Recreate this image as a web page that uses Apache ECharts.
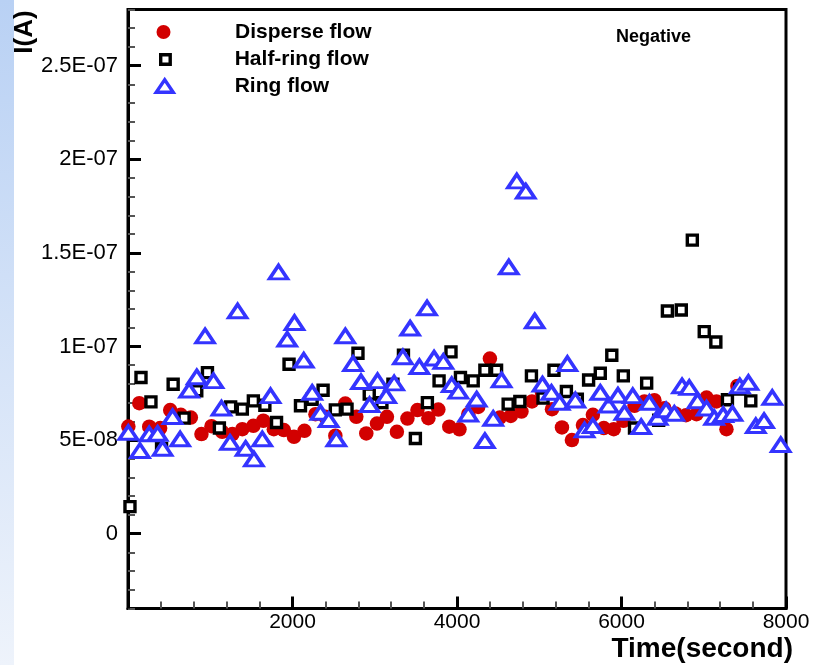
<!DOCTYPE html>
<html><head><meta charset="utf-8">
<script src="https://cdn.jsdelivr.net/npm/echarts@6/dist/echarts.min.js"></script>
<style>html,body{margin:0;padding:0;background:#fff}#c{width:815px;height:665px}</style>
</head><body><div id="c"></div>
<script>
const seriesNames = ['Disperse flow', 'Half-ring flow', 'Ring flow'];
const panelLabel = 'Negative';
const xAxisTitle = 'Time(second)';
const yAxisTitle = 'I(A)';

const disperseTime = [4,137,258,391,513,642,764,893,1015,1145,1269,1390,1524,1645,1773,1895,2018,2145,2279,2400,2521,2642,2776,2897,3027,3148,3269,3397,3519,3652,3773,3906,4030,4137,4258,4400,4521,4654,4784,4912,5033,5155,5276,5397,5531,5652,5785,5906,6024,6158,6279,6400,6521,6654,6784,6912,7034,7155,7276,7409];
const disperseCurrent = [5.72e-8,6.97e-8,5.71e-8,5.64e-8,6.60e-8,6.35e-8,6.20e-8,5.32e-8,5.74e-8,5.44e-8,5.32e-8,5.58e-8,5.76e-8,6.03e-8,5.58e-8,5.53e-8,5.17e-8,5.49e-8,6.38e-8,6.24e-8,5.23e-8,6.95e-8,6.24e-8,5.35e-8,5.88e-8,6.24e-8,5.44e-8,6.15e-8,6.60e-8,6.17e-8,6.63e-8,5.71e-8,5.57e-8,6.38e-8,6.77e-8,9.35e-8,6.20e-8,6.29e-8,6.52e-8,7.06e-8,7.54e-8,6.65e-8,5.67e-8,5.00e-8,5.80e-8,6.35e-8,5.64e-8,5.58e-8,6.03e-8,6.83e-8,7.06e-8,7.13e-8,6.70e-8,6.42e-8,6.33e-8,6.38e-8,7.27e-8,7.06e-8,5.58e-8,7.89e-8];

const halfRingTime = [24,158,279,408,549,682,836,966,1111,1248,1390,1524,1664,1806,1958,2097,2239,2372,2521,2663,2796,2933,3087,3221,3349,3494,3640,3782,3927,4042,4197,4339,4481,4622,4764,4905,5046,5179,5330,5463,5600,5742,5882,6022,6158,6306,6452,6558,6727,6861,7006,7147,7288,7438,7572];
const halfRingCurrent = [1.44e-8,8.34e-8,7.04e-8,4.55e-8,7.98e-8,6.17e-8,7.63e-8,8.60e-8,5.64e-8,6.77e-8,6.65e-8,7.09e-8,6.86e-8,5.94e-8,9.05e-8,6.83e-8,7.18e-8,7.66e-8,6.61e-8,6.65e-8,9.64e-8,7.45e-8,7.00e-8,7.98e-8,9.53e-8,5.08e-8,7.00e-8,8.16e-8,9.71e-8,8.34e-8,8.16e-8,8.73e-8,8.73e-8,6.92e-8,7.06e-8,8.43e-8,7.24e-8,8.73e-8,7.59e-8,7.18e-8,8.21e-8,8.57e-8,9.53e-8,8.43e-8,5.64e-8,8.04e-8,6.06e-8,11.89e-8,11.95e-8,15.68e-8,10.79e-8,10.24e-8,7.15e-8,7.72e-8,7.09e-8];

const ringTime = [4,145,258,360,421,542,634,743,836,937,1039,1136,1240,1333,1430,1531,1633,1733,1830,1936,2024,2137,2239,2339,2440,2533,2642,2736,2833,2937,3034,3139,3236,3342,3430,3543,3636,3721,3834,3936,4016,4137,4239,4339,4440,4542,4630,4727,4836,4945,5039,5148,5248,5342,5439,5551,5652,5742,5842,5957,6036,6137,6239,6339,6440,6542,6642,6736,6824,6924,7034,7127,7236,7349,7438,7543,7633,7733,7833,7936];
const ringCurrent = [5.40e-8,4.43e-8,5.32e-8,5.35e-8,4.55e-8,6.24e-8,5.05e-8,7.66e-8,8.37e-8,10.56e-8,8.16e-8,6.70e-8,4.87e-8,11.89e-8,4.55e-8,3.98e-8,5.05e-8,7.36e-8,13.97e-8,10.38e-8,11.27e-8,9.26e-8,7.54e-8,6.47e-8,6.08e-8,5.05e-8,10.56e-8,9.08e-8,8.11e-8,6.88e-8,8.16e-8,7.36e-8,8.04e-8,9.44e-8,10.97e-8,8.91e-8,12.05e-8,9.37e-8,9.19e-8,7.95e-8,7.60e-8,6.38e-8,7.18e-8,4.96e-8,6.15e-8,8.21e-8,14.24e-8,18.83e-8,18.29e-8,11.36e-8,7.98e-8,7.54e-8,7.00e-8,9.08e-8,7.13e-8,5.53e-8,5.76e-8,7.54e-8,6.86e-8,7.39e-8,6.47e-8,7.36e-8,5.71e-8,7.00e-8,6.20e-8,6.60e-8,6.42e-8,7.89e-8,7.80e-8,7.09e-8,6.70e-8,6.20e-8,6.35e-8,6.42e-8,7.89e-8,8.07e-8,5.76e-8,6.03e-8,7.27e-8,4.75e-8];

const xMin = 0, xMax = 8000, xMajor = 2000;
const yMin = -4e-8, yMax = 2.8e-7, yMinor = 1e-8, yMajor = 5e-8;

const FONT = '"Liberation Sans", Arial, Helvetica, sans-serif';

function sciLabel(v) {
  if (Math.abs(v) < 1e-20) return '0';
  const e = Math.floor(Math.log10(Math.abs(v)) + 1e-9);
  const m = Math.round(v / Math.pow(10, e) * 100) / 100;
  return m + 'E' + (e < 0 ? '-' : '+') + String(Math.abs(e)).padStart(2, '0');
}
function pairs(xs, ys) { return xs.map((x, i) => [x, ys[i]]); }

const chart = echarts.init(document.getElementById('c'), null, {renderer: 'canvas'});
const gridMain = {left: 128, right: 29, top: 9.5, bottom: 56.5};
const zeroBottom = 56.5 + 599 * (0 - yMin) / (yMax - yMin);

function legendFor(i, left, top, w, h, padLeft, extra) {
  return Object.assign({
    data: [seriesNames[i]], orient: 'vertical', left: left, top: top, padding: 0,
    itemWidth: w, itemHeight: h, selectedMode: false,
    textStyle: {fontFamily: FONT, fontSize: 21, fontWeight: 'bold', color: '#000', padding: [0, 0, 0, padLeft]}
  }, extra || {});
}

const option = {
  animation: false,
  backgroundColor: '#fff',
  textStyle: {fontFamily: FONT},
  graphic: [
    {type: 'rect', left: 0, top: 0, z: -10, silent: true, shape: {width: 14, height: 665},
     style: {fill: new echarts.graphic.LinearGradient(0, 0, 0, 1, [{offset: 0, color: '#b9d1f4'}, {offset: 1, color: '#eef3fb'}])}},
    {type: 'text', x: 25, y: 32, rotation: Math.PI / 2, silent: true,
     style: {text: yAxisTitle, font: 'bold 26px ' + FONT, fill: '#000', align: 'center', verticalAlign: 'middle'}}
  ],
  title: {text: panelLabel, left: 616, top: 28, padding: 0,
          textStyle: {fontFamily: FONT, fontSize: 18, fontWeight: 'bold', color: '#000'}},
  legend: [
    legendFor(0, 156.5, 21.5, 14, 14, 59.5, {itemStyle: {borderWidth: 0}}),
    legendFor(1, 159, 49, 9.5, 9.5, 59.5, {itemStyle: {borderWidth: 3.4}}),
    legendFor(2, 154.5, 75.5, 17, 12.5, 56.5, {itemStyle: {borderWidth: 3.4}, symbolKeepAspect: false})
  ],
  grid: [
    Object.assign({show: true, borderColor: '#000', borderWidth: 3, backgroundColor: 'transparent'}, gridMain),
    {left: 128, right: 29, top: 9.5, bottom: zeroBottom, show: false}
  ],
  xAxis: [
    {gridIndex: 0, type: 'value', min: xMin, max: xMax, interval: xMajor,
     axisLine: {show: true, onZero: false, lineStyle: {color: '#000', width: 3}},
     axisTick: {show: true, inside: true, length: 12, lineStyle: {color: '#000', width: 3}},
     minorTick: {show: true, splitNumber: 5, length: 7, lineStyle: {color: '#555', width: 2}},
     splitLine: {show: false}, minorSplitLine: {show: false},
     axisLabel: {showMinLabel: false, color: '#000', fontSize: 21, margin: 3, fontFamily: FONT,
                 formatter: v => (v === 0 ? '' : String(v))},
     name: xAxisTitle, nameLocation: 'end', nameGap: 7,
     nameTextStyle: {fontFamily: FONT, fontSize: 28, fontWeight: 'bold', color: '#000',
                     align: 'right', verticalAlign: 'top', padding: [27, 0, 0, 0]}},
    {gridIndex: 1, type: 'value', min: xMin, max: xMax, show: false}
  ],
  yAxis: [
    {gridIndex: 0, type: 'value', min: yMin, max: yMax, interval: yMinor,
     axisLine: {show: true, onZero: false, lineStyle: {color: '#000', width: 3}},
     axisTick: {show: true, inside: true, length: 7, lineStyle: {color: '#555', width: 2}},
     axisLabel: {show: false}, splitLine: {show: false}},
    {gridIndex: 1, type: 'value', min: 0, max: yMax, interval: yMajor,
     axisLine: {show: false},
     axisTick: {show: true, inside: true, length: 13, lineStyle: {color: '#000', width: 3}},
     axisLabel: {show: true, showMaxLabel: false, showMinLabel: true, formatter: sciLabel,
                 color: '#000', fontSize: 22, margin: 10, fontFamily: FONT},
     splitLine: {show: false}}
  ],
  series: [
    {name: seriesNames[0], type: 'scatter', xAxisIndex: 0, yAxisIndex: 0, symbol: 'circle', symbolSize: 14.5,
     itemStyle: {color: '#d20000', opacity: 1}, data: pairs(disperseTime, disperseCurrent)},
    {name: seriesNames[1], type: 'scatter', xAxisIndex: 0, yAxisIndex: 0, symbol: 'rect', symbolSize: 10,
     itemStyle: {color: '#fff', borderColor: '#000', borderWidth: 3.4, opacity: 1}, data: pairs(halfRingTime, halfRingCurrent)},
    {name: seriesNames[2], type: 'scatter', xAxisIndex: 0, yAxisIndex: 0, symbol: 'triangle', symbolSize: [18, 13.5],
     itemStyle: {color: '#fff', borderColor: '#3434ff', borderWidth: 3.4, opacity: 1}, data: pairs(ringTime, ringCurrent)}
  ]
};
chart.setOption(option);
</script>
</body></html>
